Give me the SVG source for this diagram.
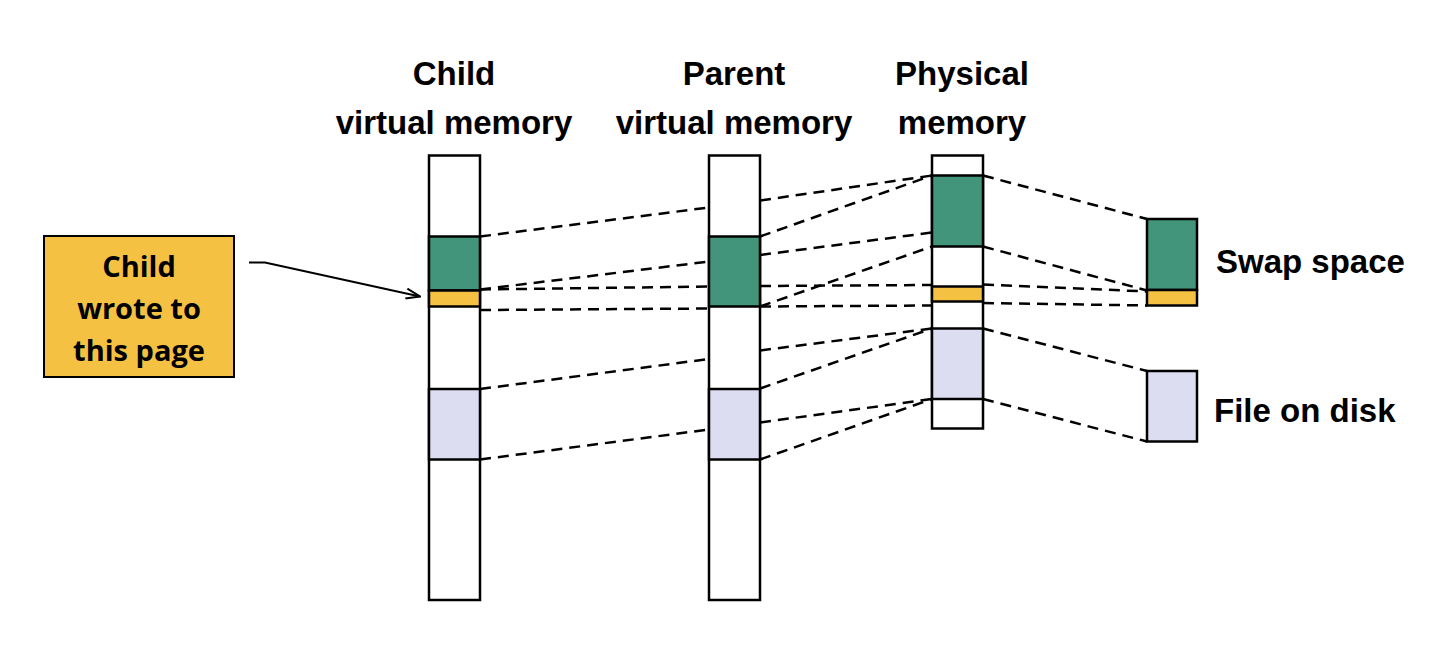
<svg xmlns="http://www.w3.org/2000/svg" width="1440" height="662" viewBox="0 0 1440 662">
<style>
.col{fill:#ffffff;stroke:#000;stroke-width:2.5}
.g{fill:#42947A;stroke:#000;stroke-width:2.5}
.y{fill:#F5C142;stroke:#000;stroke-width:2.5}
.l{fill:#DCDDF1;stroke:#000;stroke-width:2.5}
.t{font-family:"Liberation Sans",Arial,sans-serif;font-weight:bold;font-size:33px;fill:#000}
.n{font-family:"Open Sans",Lato,sans-serif;font-weight:bold;font-size:29px;fill:#000;text-anchor:middle}
.d{stroke:#000;stroke-width:2.5;stroke-dasharray:11 7;fill:none}
</style>
<defs>
<marker id="open" viewBox="0 0 16 12" refX="15" refY="6" markerWidth="16" markerHeight="12" markerUnits="userSpaceOnUse" orient="auto">
<path d="M1,1 L15,6 L1,11" fill="none" stroke="#000" stroke-width="2"/>
</marker>
</defs>
<rect width="1440" height="662" fill="#ffffff"/>
<g id="titles">
<text class="t" x="454" y="85" text-anchor="middle">Child</text>
<text class="t" x="454" y="134" text-anchor="middle">virtual memory</text>
<text class="t" x="734" y="85" text-anchor="middle">Parent</text>
<text class="t" x="734" y="134" text-anchor="middle">virtual memory</text>
<text class="t" x="962" y="85" text-anchor="middle">Physical</text>
<text class="t" x="962" y="134" text-anchor="middle">memory</text>
</g>
<g id="child-vm">
<rect class="col" x="429" y="155.5" width="51" height="444.5"/>
<rect class="g" x="429" y="236.5" width="51" height="54"/>
<rect class="y" x="429" y="290.5" width="51" height="16"/>
<rect class="l" x="429" y="389" width="51" height="70.5"/>
</g>
<g id="parent-vm">
<rect class="col" x="709" y="155.5" width="51" height="444.5"/>
<rect class="g" x="709" y="236.5" width="51" height="70"/>
<rect class="l" x="709" y="389" width="51" height="70.5"/>
</g>
<g id="physical">
<rect class="col" x="932" y="155.5" width="51" height="273"/>
<rect class="g" x="932" y="175.5" width="51" height="71"/>
<rect class="y" x="932" y="286.5" width="51" height="15"/>
<rect class="l" x="932" y="328.5" width="51" height="70.5"/>
</g>
<g id="swap">
<rect class="g" x="1147" y="219" width="50" height="71"/>
<rect class="y" x="1147" y="290" width="50" height="15.5"/>
<text class="t" x="1216" y="273">Swap space</text>
</g>
<g id="file">
<rect class="l" x="1147" y="371" width="50" height="70.5"/>
<text class="t" x="1214" y="421.5">File on disk</text>
</g>
<g id="note">
<rect x="44" y="236" width="190" height="141" fill="#F5C142" stroke="#000" stroke-width="2"/>
<text class="n" x="139" y="276.5">Child</text>
<text class="n" x="139" y="319">wrote to</text>
<text class="n" x="139" y="361">this page</text>
</g>
<g id="connectors">
<polyline points="249,262.5 265,262.5 420,296.5" fill="none" stroke="#000" stroke-width="2" marker-end="url(#open)"/>
<line class="d" x1="480" y1="236.5" x2="709" y2="207.5"/>
<line class="d" x1="480" y1="289.5" x2="709" y2="261.5"/>
<line class="d" x1="480" y1="289.5" x2="709" y2="286.5"/>
<line class="d" x1="480" y1="310" x2="709" y2="308.5"/>
<line class="d" x1="480" y1="389" x2="709" y2="359"/>
<line class="d" x1="480" y1="459.5" x2="709" y2="429.5"/>
<line class="d" x1="760" y1="200.5" x2="932" y2="175.5"/>
<line class="d" x1="760" y1="236.5" x2="932" y2="175.5"/>
<line class="d" x1="760" y1="255" x2="932" y2="232.5"/>
<line class="d" x1="760" y1="306.5" x2="932" y2="246.5"/>
<line class="d" x1="760" y1="286" x2="932" y2="285"/>
<line class="d" x1="760" y1="306.5" x2="932" y2="305.5"/>
<line class="d" x1="760" y1="350.5" x2="932" y2="328.5"/>
<line class="d" x1="760" y1="388.5" x2="932" y2="328.5"/>
<line class="d" x1="760" y1="422.5" x2="932" y2="399"/>
<line class="d" x1="760" y1="459.5" x2="932" y2="399"/>
<line class="d" x1="983" y1="175.5" x2="1147" y2="219"/>
<line class="d" x1="983" y1="246.5" x2="1147" y2="290.5"/>
<line class="d" x1="983" y1="284.5" x2="1147" y2="291.5"/>
<line class="d" x1="983" y1="303" x2="1147" y2="305.5"/>
<line class="d" x1="983" y1="328.5" x2="1147" y2="371"/>
<line class="d" x1="983" y1="399" x2="1147" y2="441.5"/>
</g>
</svg>
